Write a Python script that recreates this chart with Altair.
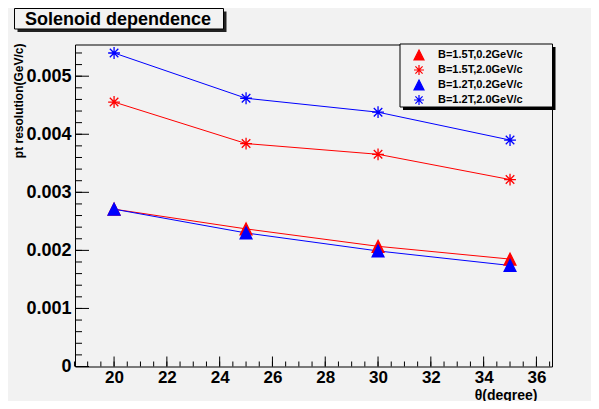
import altair as alt
import pandas as pd

# ---------------- data ----------------
theta = [20, 25, 30, 35]
series_names = ["B=1.5T,0.2GeV/c", "B=1.5T,2.0GeV/c", "B=1.2T,0.2GeV/c", "B=1.2T,2.0GeV/c"]
res_15_02 = [0.00271, 0.00237, 0.00207, 0.00185]
res_15_20 = [0.004555, 0.00384, 0.003655, 0.00322]
res_12_02 = [0.00271, 0.00230, 0.00199, 0.00174]
res_12_20 = [0.00540, 0.00462, 0.00438, 0.00390]

x_label_values = [20, 22, 24, 26, 28, 30, 32, 34, 36]
x_minor_values = [18.5 + 0.5 * i for i in range(37)]
y_label_values = [0, 0.001, 0.002, 0.003, 0.004, 0.005]
y_minor_values = [0.0002 * i for i in range(28)]

colors = ["#ff0000", "#ff0000", "#0000ff", "#0000ff"]
TRI = "M0,-1L1,1L-1,1Z"
STAR = "M-1,0L1,0M0,-1L0,1M-0.72,-0.72L0.72,0.72M-0.72,0.72L0.72,-0.72"
shapes = [TRI, STAR, TRI, STAR]

rows = []
for name, vals in zip(series_names, [res_15_02, res_15_20, res_12_02, res_12_20]):
    for t, v in zip(theta, vals):
        rows.append({"series": name, "theta": t, "res": v})
df = pd.DataFrame(rows)
legend_df = pd.DataFrame({"series": series_names})

W, H = 477, 322
FONT = "Liberation Sans"

xscale = alt.Scale(domain=[18.52, 36.59], nice=False, zero=False)
yscale = alt.Scale(domain=[0, 0.005546], nice=False, zero=False)
cscale = alt.Scale(domain=series_names, range=colors)
sscale = alt.Scale(domain=series_names, range=shapes)

x_axis = alt.Axis(values=x_label_values, format="d", labelFont=FONT, labelFontSize=17,
                  labelFontWeight="bold", labelColor="black", ticks=False, domain=False,
                  grid=False, labelPadding=3, labelFlush=False, labelOverlap=False,
                  title="θ(degree)", titleFont=FONT, titleFontSize=14, titleFontWeight="bold",
                  titleColor="black", titleX=462, titleY=32.5, titleAlign="right",
                  titleBaseline="alphabetic")
y_axis = alt.Axis(values=y_label_values,
                  labelExpr="datum.value == 0 ? '0' : format(datum.value, '.3f')",
                  labelFont=FONT, labelFontSize=18, labelFontWeight="bold", labelColor="black",
                  ticks=False, domain=False, grid=False, labelPadding=4, labelFlush=False,
                  labelOverlap=False,
                  title="pt resolution(GeV/c)", titleFont=FONT, titleFontSize=12,
                  titleFontWeight="bold", titleColor="black", titleAngle=270,
                  titleX=-53, titleY=-1.5, titleAlign="right", titleBaseline="alphabetic")

X = alt.X("theta:Q", scale=xscale, axis=x_axis)
Y = alt.Y("res:Q", scale=yscale, axis=y_axis)

line_layers = []
for name, col in zip(series_names, colors):
    line_layers.append(
        alt.Chart(df[df["series"] == name]).mark_line(strokeWidth=1, color=col).encode(
            x=X, y=Y, order="theta:Q")
    )

points = alt.Chart(df).mark_point(filled=True, size=140, strokeWidth=1.3, opacity=1).encode(
    x=X, y=Y,
    color=alt.Color("series:N", scale=cscale, legend=None),
    stroke=alt.Stroke("series:N", scale=cscale, legend=None),
    shape=alt.Shape("series:N", scale=sscale, legend=None),
)

def tick_layer(values, field, length):
    d = alt.Chart(pd.DataFrame({"theta": values, "res": values}))
    if field == "y":
        return d.mark_rule(color="black", strokeWidth=1).encode(
            y=Y, x=alt.value(0), x2=alt.value(length))
    return d.mark_rule(color="black", strokeWidth=1).encode(
        x=X, y=alt.value(H), y2=alt.value(H - length))

ticks = [
    tick_layer(y_label_values, "y", 14),
    tick_layer(y_minor_values, "y", 7),
    tick_layer(x_label_values, "x", 10),
    tick_layer(x_minor_values, "x", 5),
]

main = alt.layer(*line_layers, points, *ticks)

def box(x, x2, y, y2, fill, stroke=None):
    kw = dict(fill=fill)
    if stroke:
        kw.update(stroke=stroke, strokeWidth=1)
    return alt.Chart(alt.Data(values=[{}])).mark_rect(**kw).encode(
        x=alt.value(x), x2=alt.value(x2), y=alt.value(y), y2=alt.value(y2))

legend_boxes = [
    box(328, 480.5, 2.5, 65.5, "#000000"),
    box(325, 477.5, -0.5, 62.5, "#f2f2f2", "#000000"),
]

LY = alt.Y("series:N", scale=alt.Scale(domain=series_names, range=[10.5, 55.5], padding=0),
           axis=None)
leg_sym = alt.Chart(legend_df).mark_point(filled=True, size=100, strokeWidth=1.2,
                                          opacity=1).encode(
    x=alt.value(344), y=LY,
    color=alt.Color("series:N", scale=cscale, legend=None),
    stroke=alt.Stroke("series:N", scale=cscale, legend=None),
    shape=alt.Shape("series:N", scale=sscale, legend=None),
)
leg_txt = alt.Chart(legend_df).mark_text(font=FONT, fontSize=11, fontWeight="bold",
                                         align="left", baseline="middle",
                                         color="black").encode(
    x=alt.value(363), y=LY, text="series:N")
legend = alt.layer(leg_sym, leg_txt)

title_decor = [
    box(-57.5, 151.5, -33, -12.5, "#222222"),
    box(-60.5, 148.5, -36, -15.5, "#f2f2f2", "#000000"),
    alt.Chart(alt.Data(values=[{}])).mark_text(
        font=FONT, fontSize=18, fontWeight="bold", align="left", baseline="alphabetic",
        color="black").encode(x=alt.value(-50), y=alt.value(-20),
                              text=alt.value("Solenoid dependence")),
]

chart = alt.layer(main, *legend_boxes, legend, *title_decor).resolve_scale(
    y="independent"
).properties(
    width=W, height=H,
    autosize=alt.AutoSizeParams(type="none"),
    padding={"left": 67, "top": 36.5, "right": 39, "bottom": 34.5},
    background="#f2f2f2",
).configure_view(
    stroke="black", strokeWidth=1
)

chart.save("out.html", embed_options={"renderer": "svg", "actions": False})
